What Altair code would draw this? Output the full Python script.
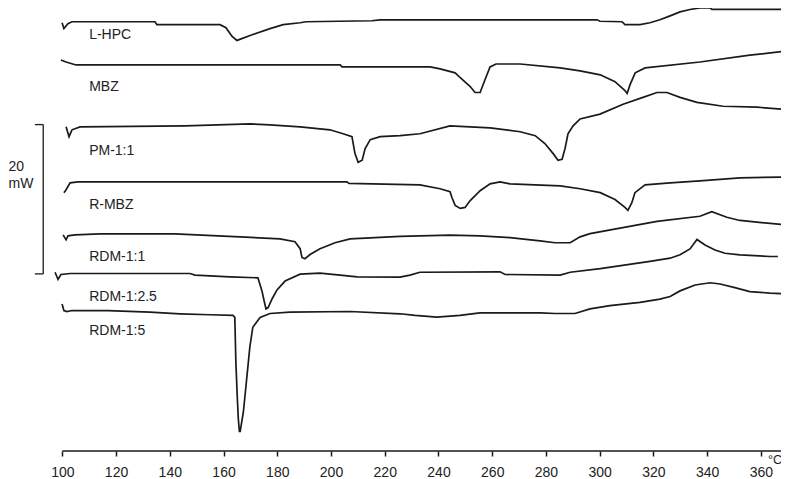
import altair as alt
import pandas as pd

# DSC thermograms: temperature (deg C) vs heat-flow reading (arbitrary units, 152 units = 20 mW)
L_HPC = [(99.9,436),(100.6,430),(102.1,435),(103.6,437),(134.5,437),(135.2,434),(158.7,434),(160.9,431),
         (163.2,422),(165.0,418),(169.9,423),(177.3,430),(182.2,434),(188.5,436),(190.7,437),(215.3,438),
         (218.2,439),(299.0,439),(300.1,437.5),(308.3,437),(309.4,434),(315.0,434),(318.7,436),(322.4,439),
         (326.2,443),(329.9,447),(333.6,449.5),(337.3,451),(341.1,451),(341.8,449.5),(369.0,449.5)]
MBZ = [(99.5,398),(101.4,396),(105.1,393),(203.4,393),(204.1,391),(236.9,391),(240.6,389),(246.2,385),
       (248.1,380),(251.8,371),(253.6,365),(255.5,365),(257.3,378),(259.2,391),(261.4,394),(270.4,394),
       (285.3,390),(292.7,387),(300.2,383),(305.7,376),(309.4,367),(310.2,364),(311.3,373),(313.2,385),
       (316.9,390),(337.3,396),(355.9,403),(369.0,407)]
PM_1_1 = [(101.4,330),(102.5,320),(103.6,327),(106.6,330),(145.7,331),(169.9,333),(177.3,332),(188.5,330),
          (199.6,327),(204.5,323),(207.8,320),(208.9,303),(210.1,294),(211.6,296),(212.7,308),(214.6,317),
          (218.3,320),(225.7,321),(233.1,323),(244.3,331),(259.2,329),(270.4,325),(276.0,321),(279.6,313),
          (282.6,303),(284.5,296),(286.0,297),(287.1,308),(288.2,323),(290.1,331),(292.7,338),(300.1,343),
          (308.7,353),(316.1,360),(321.3,365),(325.0,365),(329.9,360),(336.2,355),(345.9,351),(358.5,350),
          (367.8,348)]
R_MBZ = [(100.6,263),(101.4,266),(102.9,273),(105.8,274),(205.9,274),(206.7,272.5),(233.1,271),(240.6,267),
         (244.3,264),(245.0,258),(246.2,250),(248.1,247),(249.9,248),(251.8,255),(255.5,265),(259.2,272),
         (262.9,274),(266.6,272),(285.3,270),(292.7,267),(300.2,263),(305.7,256),(309.4,248),(310.5,245),
         (312.0,253),(313.1,263),(316.9,271),(326.2,273),(337.3,275),(352.2,278),(369.3,279)]
RDM_1_1 = [(100.3,220),(101.4,215),(102.1,219),(104.7,220),(114.0,221),(141.9,221),(166.1,218),(181.0,216),
           (186.6,213),(188.5,206),(189.2,197),(190.3,195.7),(192.2,200),(195.9,206),(201.5,212),(207.1,216),
           (225.7,218.5),(244.3,219.7),(255.5,219),(266.6,217.3),(277.8,214),(283.4,212),(289.0,212),
           (292.7,218),(296.4,221.3),(321.3,233.7),(337.3,239),(341.7,243.7),(347.3,238),(352.2,234.7),
           (358.5,233),(369.0,230.3)]
RDM_1_2_5 = [(97.3,182),(98.4,174.7),(99.5,179.7),(102.9,180.7),(147.5,180.7),(149.4,179),(162.4,177.3),
             (172.8,176.3),(174.3,163),(175.1,153),(175.8,144.7),(176.6,146),(178.1,155),(179.9,164),
             (182.9,173),(188.5,180),(195.9,181),(203.4,179),(209.7,177.3),(225.7,177),(229.4,179),
             (233.1,182),(262.9,182.4),(264.8,179.7),(285.3,179),(289.0,182),(300.2,185.7),(318.7,193),
             (326.2,196.3),(329.9,199.7),(333.6,205.7),(336.2,215.3),(339.2,209.7),(342.9,204.7),
             (346.6,201.3),(352.2,199.7),(363.4,198),(366.3,198)]
RDM_1_5 = [(99.9,149.7),(100.6,143),(101.7,142),(103.6,143),(117.0,143),(132.6,141.3),(143.8,139.7),
           (155.0,138.7),(163.5,138),(164.2,136),(164.6,90),(165.1,56),(165.5,33),(165.9,20),(166.2,20),
           (166.5,25),(167.4,40),(168.6,73),(169.8,106),(170.9,126),(173.6,136),(177.3,140),(184.7,141.3),
           (207.1,142),(225.7,139.7),(231.3,138),(239.4,136.3),(248.0,138),(255.4,140.7),(277.8,140.7),
           (283.4,140),(290.8,140),(296.4,144.7),(303.8,148),(315.0,151.3),(322.4,154.7),(326.2,157.3),
           (329.9,163),(335.5,169),(341.1,171.3),(344.8,170),(350.3,166.3),(355.9,162.3),(363.4,160.7),
           (369.7,160)]

SAMPLES = ["L-HPC", "MBZ", "PM-1:1", "R-MBZ", "RDM-1:1", "RDM-1:2.5", "RDM-1:5"]
CURVES = [L_HPC, MBZ, PM_1_1, R_MBZ, RDM_1_1, RDM_1_2_5, RDM_1_5]
LABEL_T = [110] * 7
LABEL_H = [419, 366, 301, 246, 193, 152.5, 118]

TICKS = list(range(100, 361, 10))
AXIS_START, X_MIN, X_MAX = 100, 79.79, 367.47
Y_MAX = 451

# scale bar: 20 mW
BAR_T, BAR_T_TICK = 92.9, 89.8
BAR_LOW, BAR_HIGH = 180.3, 332.3
BAR_TEXT = [("20", 80, 285), ("mW", 80, 268)]
UNIT_TEXT = ("°C", 362.6, -13.2)

rows = []
for name, pts in zip(SAMPLES, CURVES):
    for i, (t, h) in enumerate(pts):
        rows.append({"sample": name, "T": t, "h": h, "i": i})
curves_df = pd.DataFrame(rows)
labels_df = pd.DataFrame({"sample": SAMPLES, "T": LABEL_T, "h": LABEL_H})

xs = alt.Scale(domain=[X_MIN, X_MAX], nice=False, zero=False)
ys = alt.Scale(domain=[0, Y_MAX], nice=False, zero=False)
FONT = "Liberation Sans"
INK = "#1a1a1a"

lines = alt.Chart(curves_df).mark_line(color=INK, strokeWidth=1.7).encode(
    x=alt.X("T:Q", scale=xs, axis=alt.Axis(
        values=TICKS, domain=False, grid=False, title=None,
        tickSize={"condition": {"test": "datum.value % 20 === 0", "value": 5}, "value": 3},
        tickColor=INK, tickWidth=1.5,
        labelExpr="datum.value % 20 === 0 ? datum.label : ''",
        labelFont=FONT, labelFontSize=14, labelColor="#222", labelPadding=9,
        labelFlush=False, labelOverlap=False)),
    y=alt.Y("h:Q", scale=ys, axis=None),
    detail="sample:N",
    order="i:Q",
)

labels = alt.Chart(labels_df).mark_text(
    align="left", baseline="alphabetic", font=FONT, fontSize=14, color="#222"
).encode(x=alt.X("T:Q", scale=xs), y=alt.Y("h:Q", scale=ys), text="sample:N")

axis_df = pd.DataFrame({"T": [AXIS_START], "T2": [X_MAX], "h": [0]})
axis_line = alt.Chart(axis_df).mark_rule(color=INK, strokeWidth=1.5).encode(
    x=alt.X("T:Q", scale=xs), x2="T2:Q", y=alt.Y("h:Q", scale=ys))

bar_df = pd.DataFrame({
    "T": [BAR_T, BAR_T_TICK, BAR_T_TICK],
    "T2": [BAR_T, BAR_T, BAR_T],
    "h": [BAR_LOW, BAR_HIGH, BAR_LOW],
    "h2": [BAR_HIGH, BAR_HIGH, BAR_LOW],
})
bar = alt.Chart(bar_df).mark_rule(color=INK, strokeWidth=1.3).encode(
    x=alt.X("T:Q", scale=xs), x2="T2:Q", y=alt.Y("h:Q", scale=ys), y2="h2:Q")

txt_df = pd.DataFrame([{"text": s, "T": t, "h": h} for s, t, h in BAR_TEXT])
txt = alt.Chart(txt_df).mark_text(
    align="left", baseline="alphabetic", font=FONT, fontSize=14, color="#222"
).encode(x=alt.X("T:Q", scale=xs), y=alt.Y("h:Q", scale=ys), text="text:N")

unit_df = pd.DataFrame([{"text": UNIT_TEXT[0], "T": UNIT_TEXT[1], "h": UNIT_TEXT[2]}])
unit = alt.Chart(unit_df).mark_text(
    align="left", baseline="alphabetic", font=FONT, fontSize=12.5, color="#222"
).encode(x=alt.X("T:Q", scale=xs), y=alt.Y("h:Q", scale=ys), text="text:N")

chart = alt.layer(lines, labels, axis_line, bar, txt, unit).properties(
    width=773, height=443,
    padding={"left": 0, "top": 0, "right": 0, "bottom": 28},
    autosize=alt.AutoSizeParams(type="none"),
    background="white",
).configure_view(strokeWidth=0)

chart.save("out.html", embed_options={"renderer": "svg", "actions": False})
